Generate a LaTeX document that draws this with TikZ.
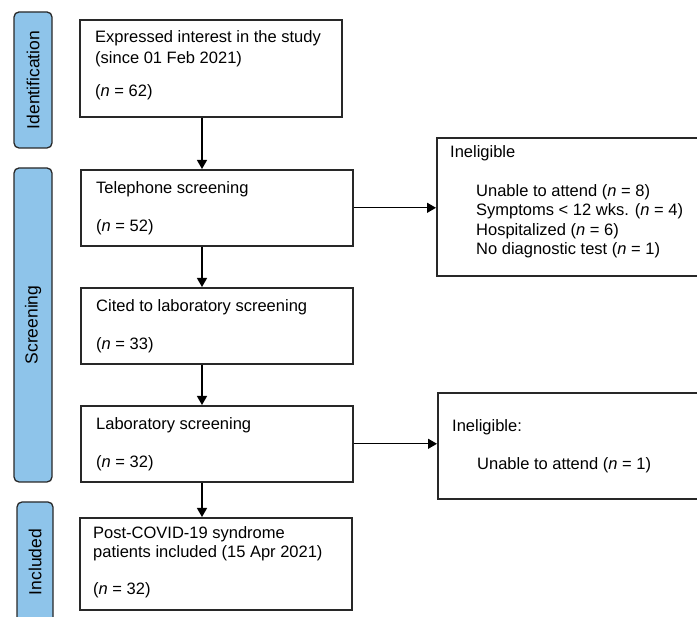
\documentclass[tikz,border=0pt]{standalone}
\usepackage{fontspec}
\setmainfont{Liberation Sans}
\usetikzlibrary{arrows.meta}
\definecolor{tabblue}{RGB}{142,196,234}
\definecolor{edge}{RGB}{40,40,40}

\begin{document}
\begin{tikzpicture}[x=1pt,y=-1pt,every path/.style={>={Triangle[length=9pt,width=10pt]}},
	box/.style={draw=edge,line width=1.6pt,anchor=north west,inner sep=0pt},
	tab/.style={draw=edge,fill=tabblue,line width=1.3pt,rounded corners=5pt,rotate=90,inner sep=0pt,font=\fontsize{17.5}{20}\selectfont},
	txt/.style={anchor=base west,align=left,inner sep=0pt,font=\fontsize{16.5}{19.5}\selectfont},
	arrow/.style={->,line width=1.3pt,draw=black}]
		\useasboundingbox (0,0) rectangle (697,617);
		\clip (0,0) rectangle (697,617);
		
		% draw tabs on the left
		\node[tab,minimum width=136,minimum height=38] (tab-id) at (33,80) {Identification};
		\node[tab,minimum width=314,minimum height=38] (tab-scr) at (33,325) {Screening};
		\node[tab,minimum width=120,minimum height=36] (tab-inc) at (35,562) {Included};
		
		% draw main boxes
		\node[box,minimum width=262,minimum height=97] (interest) at (79,19) {};
		\node[box,minimum width=272,minimum height=76] (phone) at (80,169) {};
		\node[box,minimum width=272,minimum height=76] (cited) at (80,287) {};
		\node[box,minimum width=272,minimum height=76] (lab) at (80,405) {};
		\node[box,minimum width=272,minimum height=92] (incl) at (79,517) {};
		
		% draw boxes for ineligible
		\node[box,minimum width=300,minimum height=138] (inel1) at (436,137) {};
		\node[box,minimum width=300,minimum height=106] (inel2) at (437,392) {};
		
		% text in main boxes (placed at the baseline of the last line)
		\node[txt] (interest-t) at (95,97) {Expressed interest in the study\\[1.5pt](since 01 Feb 2021)\\[13.5pt](\textit{n} = 62)};
		\node[txt] (phone-t) at (96,232) {Telephone screening\\[18.5pt](\textit{n} = 52)};
		\node[txt] (cited-t) at (96,350) {Cited to laboratory screening\\[18.5pt](\textit{n} = 33)};
		\node[txt] (lab-t) at (96,468) {Laboratory screening\\[18.5pt](\textit{n} = 32)};
		\node[txt] (incl-t) at (93,595) {Post-COVID-19 syndrome\\patients included (15 Apr 2021)\\[17.5pt](\textit{n} = 32)};
		
		% text in ineligible boxes
		\node[txt] (inel1-h) at (450,158) {Ineligible};
		\node[txt] (inel1-t) at (476,255) {Unable to attend (\textit{n} = 8)\\Symptoms < 12 wks. (\textit{n} = 4)\\Hospitalized (\textit{n} = 6)\\No diagnostic test (\textit{n} = 1)};
		\node[txt] (inel2-h) at (452,432) {Ineligible:};
		\node[txt] (inel2-t) at (477,470) {Unable to attend (\textit{n} = 1)};
		
		% draw arrows down
		\coordinate (ax) at (202,0);
		\draw[arrow] (interest.south -| ax) -- (phone.north -| ax);
		\draw[arrow] (phone.south -| ax) -- (cited.north -| ax);
		\draw[arrow] (cited.south -| ax) -- (lab.north -| ax);
		\draw[arrow] (lab.south -| ax) -- (incl.north -| ax);
		
		% draw arrows to the right
		\draw[arrow] (phone.east) -- (phone.east -| inel1.west);
		\draw[arrow] (lab.east) -- (lab.east -| inel2.west);
	\end{tikzpicture}
\end{document}
